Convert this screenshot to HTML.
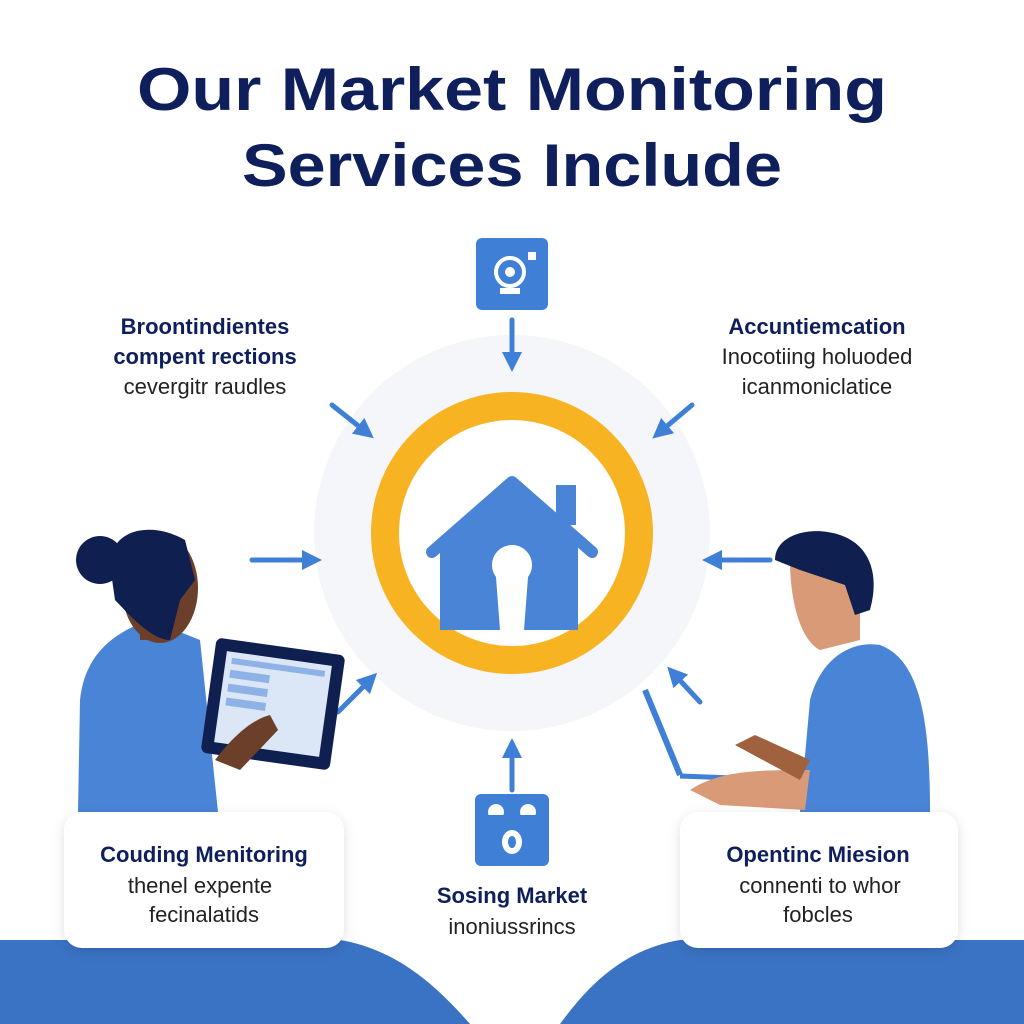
<!DOCTYPE html>
<html><head><style>
html,body{margin:0;padding:0;background:#fff;}
svg{display:block;}
</style></head><body>
<svg width="1024" height="1024" viewBox="0 0 1024 1024" xmlns="http://www.w3.org/2000/svg" font-family="Liberation Sans, sans-serif">
<defs>
<filter id="sh" x="-20%" y="-20%" width="140%" height="140%"><feDropShadow dx="0" dy="3" stdDeviation="6" flood-color="#000" flood-opacity="0.12"/></filter>
<marker id="ah" markerWidth="4" markerHeight="4" refX="2" refY="2" orient="auto" markerUnits="strokeWidth"><path d="M0,0 L4,2 L0,4 z" fill="#3f7fd6"/></marker>
</defs>
<rect width="1024" height="1024" fill="#fff"/>
<text x="512" y="110" text-anchor="middle" font-size="60" font-weight="bold" fill="#0f1f5c" textLength="750" lengthAdjust="spacingAndGlyphs">Our Market Monitoring</text>
<text x="512" y="186" text-anchor="middle" font-size="60" font-weight="bold" fill="#0f1f5c" textLength="540" lengthAdjust="spacingAndGlyphs">Services Include</text>
<!-- bottom blue -->
<path d="M0,940 L340,940 C400,950 440,990 470,1024 L0,1024 Z" fill="#3a72c4"/>
<path d="M1024,940 L680,940 C620,950 585,990 560,1024 L1024,1024 Z" fill="#3a72c4"/>
<!-- halo -->
<circle cx="512" cy="533" r="198" fill="#f4f6f9"/>
<circle cx="512" cy="533" r="127" fill="#fff" stroke="#f7b322" stroke-width="28"/>
<!-- house -->
<g fill="#4a84d6">
<path d="M512,478 L440,542 L440,630 L578,630 L578,542 Z"/>
<rect x="556" y="485" width="20" height="40"/>
</g>
<path d="M432,552 L512,482 L592,552" fill="none" stroke="#4a84d6" stroke-width="12" stroke-linecap="round" stroke-linejoin="round"/>
<path d="M512,545 a20,20 0 0 1 16,32 L524,630 L500,630 L496,577 a20,20 0 0 1 16,-32z" fill="#fff"/>
<!-- top icon -->
<rect x="476" y="238" width="72" height="72" rx="6" fill="#3f7fd6"/>
<circle cx="510" cy="272" r="14" fill="none" stroke="#fff" stroke-width="4"/>
<circle cx="510" cy="272" r="5" fill="#fff"/>
<rect x="500" y="288" width="20" height="6" fill="#fff"/>
<rect x="528" y="252" width="8" height="8" fill="#fff"/>
<!-- bottom icon -->
<rect x="475" y="794" width="74" height="72" rx="6" fill="#3f7fd6"/>
<circle cx="496" cy="812" r="8" fill="#fff"/><circle cx="528" cy="812" r="8" fill="#fff"/>
<rect x="488" y="815" width="16" height="12" fill="#3f7fd6"/><rect x="520" y="815" width="16" height="12" fill="#3f7fd6"/>
<ellipse cx="512" cy="842" rx="10" ry="12" fill="#fff"/><ellipse cx="512" cy="842" rx="4" ry="6" fill="#3f7fd6"/>
<!-- arrows -->
<g stroke="#3f7fd6" stroke-width="5" marker-end="url(#ah)" stroke-linecap="round">
<line x1="512" y1="320" x2="512" y2="362"/>
<line x1="332" y1="405" x2="366" y2="432"/>
<line x1="692" y1="405" x2="660" y2="432"/>
<line x1="252" y1="560" x2="312" y2="560"/>
<line x1="770" y1="560" x2="712" y2="560"/>
<line x1="338" y1="712" x2="370" y2="680"/>
<line x1="700" y1="702" x2="674" y2="674"/>
<line x1="512" y1="790" x2="512" y2="748"/>
</g>
<!-- side labels -->
<g text-anchor="middle" fill="#0f1f5c">
<text x="205" y="334" font-size="22" font-weight="bold">Broontindientes</text>
<text x="205" y="364" font-size="22" font-weight="bold">compent rections</text>
<text x="205" y="394" font-size="22" fill="#222">cevergitr raudles</text>
<text x="817" y="334" font-size="22" font-weight="bold">Accuntiemcation</text>
<text x="817" y="364" font-size="22" fill="#222">Inocotiing holuoded</text>
<text x="817" y="394" font-size="22" fill="#222">icanmoniclatice</text>
</g>
<!-- woman -->
<path d="M78,812 L80,700 C85,650 120,630 150,620 L200,640 L218,812 Z" fill="#4a84d6"/>
<rect x="140" y="600" width="30" height="40" fill="#6b3f2a"/>
<ellipse cx="160" cy="588" rx="38" ry="55" fill="#6b3f2a"/>
<path d="M110,565 C110,530 150,520 185,540 L195,580 L180,600 L170,640 C150,640 125,610 115,600 Z" fill="#0f1f4f"/>
<circle cx="100" cy="560" r="24" fill="#0f1f4f"/>
<rect x="208" y="646" width="130" height="116" rx="6" fill="#0f1f4f" transform="rotate(8 273 704)"/>
<rect x="220" y="658" width="106" height="92" fill="#dbe6f7" transform="rotate(8 273 704)"/>
<g fill="#8fb2e6" transform="rotate(8 273 704)"><rect x="226" y="664" width="94" height="6"/><rect x="226" y="676" width="40" height="8"/><rect x="226" y="690" width="40" height="8"/><rect x="226" y="704" width="40" height="8"/></g>
<path d="M215,760 C230,740 250,720 270,715 L278,730 L240,770 Z" fill="#6b3f2a"/>
<!-- man -->
<path d="M800,812 L810,700 C820,660 850,640 880,645 C920,660 930,720 930,812 Z" fill="#4a84d6"/>
<path d="M790,560 C790,600 800,640 820,650 L860,640 L860,580 Z" fill="#d99a78"/>
<path d="M775,560 C775,535 810,525 840,535 C870,545 880,575 870,610 L855,615 L845,585 L800,570 Z" fill="#0f1f4f"/>
<line x1="645" y1="690" x2="680" y2="775" stroke="#3f7fd6" stroke-width="6"/>
<line x1="680" y1="776" x2="760" y2="779" stroke="#3f7fd6" stroke-width="5"/>
<path d="M690,790 C720,770 760,770 810,770 L805,810 L720,805 Z" fill="#d99a78"/>
<path d="M735,745 L755,735 L810,760 L800,780 Z" fill="#a0613f"/>
<!-- cards -->
<g filter="url(#sh)">
<rect x="64" y="812" width="280" height="136" rx="18" fill="#fff"/>
<rect x="680" y="812" width="278" height="136" rx="18" fill="#fff"/>
</g>
<g text-anchor="middle">
<text x="204" y="862" font-size="22" font-weight="bold" fill="#0f1f5c">Couding Menitoring</text>
<text x="200" y="893" font-size="22" fill="#222">thenel expente</text>
<text x="204" y="922" font-size="22" fill="#222">fecinalatids</text>
<text x="512" y="903" font-size="22" font-weight="bold" fill="#0f1f5c">Sosing Market</text>
<text x="512" y="934" font-size="22" fill="#222">inoniussrincs</text>
<text x="818" y="862" font-size="22" font-weight="bold" fill="#0f1f5c">Opentinc Miesion</text>
<text x="820" y="893" font-size="22" fill="#222">connenti to whor</text>
<text x="818" y="922" font-size="22" fill="#222">fobcles</text>
</g>
</svg>
</body></html>
